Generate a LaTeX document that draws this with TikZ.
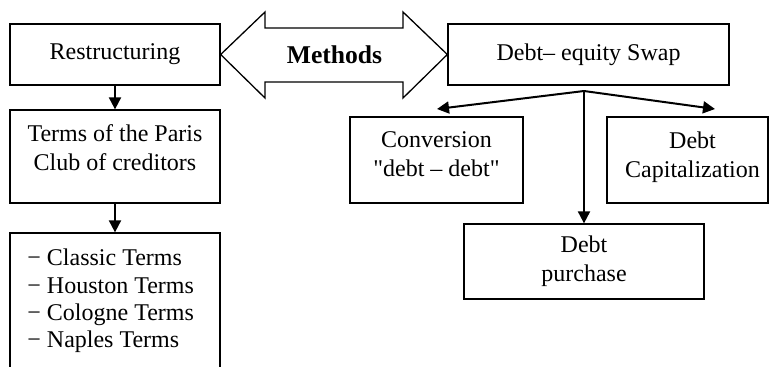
\documentclass[tikz,border=0pt]{standalone}
\usepackage{fontspec}
\setmainfont{Liberation Serif}
\newfontfamily\plainserif{Liberation Serif}
\usetikzlibrary{arrows.meta}
\begin{document}
\begin{tikzpicture}[x=0.5pt,y=-0.5pt,
  box/.style={draw, line width=0.65pt, inner sep=0pt},
  txt/.style={align=center, font=\fontsize{12}{14.5}\selectfont, inner sep=0pt},
  arr/.style={line width=1pt, -{Triangle[length=6pt,width=6pt]}}]
\path[use as bounding box, clip] (0,0) rectangle (769,366);
% left column
\node[box, txt, minimum width=105pt, minimum height=30.5pt] (rs) at (115,54.5) {Restructuring};
\node[box, minimum width=105pt, minimum height=46.5pt] (terms) at (115,156.5) {};
\node[txt] (termst) at (115,148) {Terms of the Paris\\Club of creditors};
\node[box, minimum width=105pt, minimum height=83.5pt] (list) at (115,316.5) {};
\node[txt, align=left, anchor=west, font=\fontsize{12}{13.7}\selectfont] (listt) at (27,301)
  {− Classic Terms\\− Houston Terms\\− Cologne Terms\\− Naples Terms};
\draw[arr] (rs.south) -- (terms.north);
\draw[arr] (terms.south) -- (list.north);
% right side
\node[box, txt, minimum width=140.5pt, minimum height=30.5pt] (des) at (588.5,54.5) {Debt– equity Swap};
\node[box, minimum width=86.5pt, minimum height=43pt] (conv) at (436.5,160) {};
\node[txt] (convt) at (436.5,154.5) {Conversion\\{\plainserif "debt – debt"}};
\node[box, minimum width=80.5pt, minimum height=43pt] (cap) at (687.5,160) {};
\node[txt] (capt) at (692.5,157.5) {Debt\\Capitalization};
\node[box, txt, minimum width=120pt, minimum height=37.5pt] (dp) at (584,261.5) {Debt\\purchase};
\coordinate (J) at (584,91);
\coordinate (convtip) at (437,109);
\coordinate (captip) at (715,109);
\draw[arr] (J) -- (convtip);
\draw[arr] (J) -- (captip);
\draw[arr] (J) -- (dp.north);
% double arrow
\draw[line width=0.65pt, line join=miter] (rs.east) -- (265,12) -- (265,28) -- (403,28) -- (403,12)
  -- (des.west) -- (403,98) -- (403,82) -- (265,82) -- (265,98) -- cycle;
\node[inner sep=0pt, font=\fontsize{12.8}{15}\selectfont\bfseries] (meth) at (334.5,55) {Methods};
\end{tikzpicture}
\end{document}
